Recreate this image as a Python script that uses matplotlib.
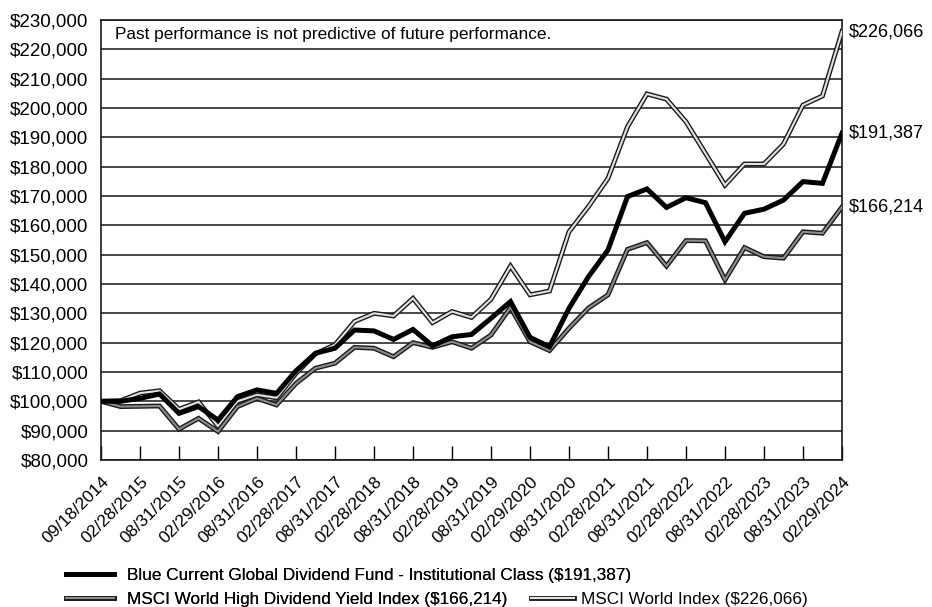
import numpy as np
import matplotlib
matplotlib.use("Agg")
import matplotlib.pyplot as plt
from matplotlib.lines import Line2D
from matplotlib.ticker import FuncFormatter, MultipleLocator


# ==========================================
# Data (quarterly values, growth of $100,000)
# ==========================================

TICK_LABELS = [
    "09/18/2014", "02/28/2015", "08/31/2015", "02/29/2016", "08/31/2016",
    "02/28/2017", "08/31/2017", "02/28/2018", "08/31/2018", "02/28/2019",
    "08/31/2019", "02/29/2020", "08/31/2020", "02/28/2021", "08/31/2021",
    "02/28/2022", "08/31/2022", "02/28/2023", "08/31/2023", "02/29/2024",
]

fund = [
    100000, 100000, 101000, 102500, 95900, 98200, 93600, 101600, 103900, 102700,
    110400, 116400, 118100, 124300, 124000, 121100, 124500, 118900, 122000, 122800,
    128300, 134000, 121800, 118600, 131700, 142500, 151600, 169800, 172400, 166100,
    169400, 167700, 154400, 164100, 165500, 168600, 174900, 174300, 191387,
]

high_div = [
    100000, 98200, 98300, 98400, 90500, 94200, 89700, 98200, 101000, 98750,
    106100, 111300, 113000, 118400, 118100, 115200, 120000, 118400, 120300, 118100,
    122600, 132000, 120300, 117300, 124900, 131800, 136300, 151800, 154100, 146100,
    154800, 154700, 141400, 152400, 149300, 148800, 157800, 157300, 166214,
]

world = [
    100000, 100200, 102800, 103600, 97300, 99800, 91500, 100000, 102200, 101200,
    109500, 116200, 119300, 127200, 130000, 129100, 135100, 126800, 130600, 128600,
    134800, 146100, 136300, 137600, 157800, 166400, 176000, 193600, 204800, 203000,
    195300, 184500, 173700, 180900, 180900, 187700, 201000, 204100, 226066,
]

FUND_NAME = "Blue Current Global Dividend Fund - Institutional Class ($191,387)"
HIGH_DIV_NAME = "MSCI World High Dividend Yield Index ($166,214)"
WORLD_NAME = "MSCI World Index ($226,066)"


# ==========================================
# Style
# ==========================================

plt.rcParams["font.family"] = ["Liberation Sans", "DejaVu Sans"]

OUTER_LW = 3.5
INNER_LW = 1.5
GRAY = "#8c8c8c"
LIGHT = "#e2e2e2"
EDGE = "#1a1a1a"


def money(v, pos=None):
    return f"${v:,.0f}"


# ==========================================
# Plot
# ==========================================

fig = plt.figure(figsize=(9.32, 6.07), dpi=100)
ax = fig.add_axes([0.1084, 0.2422, 0.795, 0.7249])

x = np.arange(len(fund))

# double lines: dark outline with lighter core
ax.plot(x, world, color=EDGE, lw=OUTER_LW, solid_joinstyle="miter", zorder=3)
ax.plot(x, world, color=LIGHT, lw=INNER_LW, solid_joinstyle="miter", zorder=3)
ax.plot(x, high_div, color=EDGE, lw=OUTER_LW, solid_joinstyle="miter", zorder=4)
ax.plot(x, high_div, color=GRAY, lw=INNER_LW, solid_joinstyle="miter", zorder=4)
ax.plot(x, fund, color="black", lw=3.6, solid_joinstyle="miter", zorder=5)

ax.set_xlim(0, len(fund) - 1)
ax.set_ylim(80000, 230000)

ax.yaxis.set_major_locator(MultipleLocator(10000))
ax.yaxis.set_major_formatter(FuncFormatter(money))
ax.yaxis.grid(True, color="#2a2a2a", lw=1.2)
ax.set_axisbelow(True)

ax.tick_params(axis="y", length=0, pad=9, labelsize=13.5)
ax.set_xticks(x[::2])
ax.set_xticklabels(TICK_LABELS, rotation=45, ha="right", va="top",
                   rotation_mode="anchor", fontsize=12.5)
ax.tick_params(axis="x", direction="in", length=10, width=1, pad=10)

for side in ["left", "right", "top", "bottom"]:
    ax.spines[side].set_color("#1a1a1a")
    ax.spines[side].set_linewidth(1.2)

ax.text(0.019, 0.968, "Past performance is not predictive of future performance.",
        transform=ax.transAxes, ha="left", va="center", fontsize=12.4)

# end value labels
for series in [fund, high_div, world]:
    ax.annotate(money(series[-1]), xy=(x[-1], series[-1]), xytext=(5, 0),
                textcoords="offset points", ha="left", va="center",
                fontsize=13, annotation_clip=False)

# ==========================================
# Legend
# ==========================================

fund_handle = Line2D([], [], color="black", lw=3.6)
high_div_handle = (Line2D([], [], color=EDGE, lw=OUTER_LW),
                   Line2D([], [], color=GRAY, lw=INNER_LW))
world_handle = (Line2D([], [], color=EDGE, lw=OUTER_LW),
                Line2D([], [], color=LIGHT, lw=INNER_LW))

legend_kw = dict(loc="center left", frameon=False, fontsize=12.3,
                 borderpad=0, borderaxespad=0)

leg1 = fig.legend([fund_handle], [FUND_NAME], bbox_to_anchor=(0.0708, 0.0516),
                  handlelength=2.8, handletextpad=0.8, **legend_kw)
fig.add_artist(leg1)
leg2 = fig.legend([high_div_handle], [HIGH_DIV_NAME], bbox_to_anchor=(0.0708, 0.0127),
                  handlelength=2.8, handletextpad=0.8, **legend_kw)
fig.add_artist(leg2)
fig.legend([world_handle], [WORLD_NAME], bbox_to_anchor=(0.5697, 0.0127),
           handlelength=2.5, handletextpad=0.45, **legend_kw)

fig.savefig("out.png", dpi=100)
